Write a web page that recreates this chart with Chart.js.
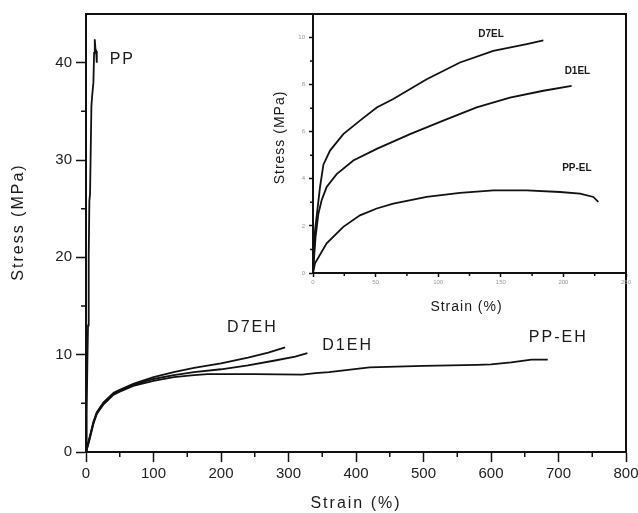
<!DOCTYPE html>
<html>
<head>
<meta charset="utf-8">
<script src="https://cdn.jsdelivr.net/npm/chart.js@4"></script>
<style>
  body { margin: 0; background: #fff; }
  #wrap { position: relative; width: 638px; height: 513px; }
  #main { position: absolute; left: 0; top: 0; }
  #inset { position: absolute; left: 268px; top: 0; }
</style>
</head>
<body>
<div id="wrap">
  <canvas id="main" width="638" height="513"></canvas>
  <canvas id="inset" width="370" height="320"></canvas>
</div>
<script>
// stress-strain curves, main plot
const ppStrain = [0, 1, 2, 3, 4, 5, 6, 8, 9, 11, 12, 13, 14, 15, 16];
const ppStress = [0, 4, 9, 13, 20, 25.8, 26.5, 35.5, 36.5, 38, 41, 42.4, 41.4, 41.2, 40];

const d7ehStrain = [0, 3, 6, 11, 16, 26, 41, 50, 70, 100, 130, 160, 200, 240, 270, 295];
const d7ehStress = [0, 0.9, 1.7, 3.1, 4.1, 5.1, 6.1, 6.4, 7.0, 7.7, 8.2, 8.65, 9.1, 9.7, 10.2, 10.75];

const d1ehStrain = [0, 3, 6, 11, 16, 26, 41, 50, 70, 100, 130, 160, 200, 240, 280, 310, 328];
const d1ehStress = [0, 0.8, 1.6, 3.0, 4.0, 5.0, 6.0, 6.3, 6.9, 7.5, 7.9, 8.2, 8.5, 8.9, 9.4, 9.8, 10.15];

const ppehStrain = [0, 3, 6, 11, 16, 26, 41, 50, 70, 100, 130, 160, 180, 250, 320, 340, 360, 420, 500, 580, 600, 630, 660, 684];
const ppehStress = [0, 0.7, 1.5, 2.9, 3.9, 4.9, 5.9, 6.2, 6.8, 7.3, 7.7, 7.9, 8.0, 8.0, 7.95, 8.1, 8.2, 8.7, 8.85, 8.95, 9.0, 9.2, 9.5, 9.5];

// inset curves
const d7elStrain = [0, 1.6, 5.6, 8.3, 13.6, 24.2, 37.5, 50.9, 64.1, 90.8, 117.4, 144, 170.7, 184];
const d7elStress = [0, 1.8, 3.65, 4.6, 5.2, 5.9, 6.47, 7.03, 7.39, 8.23, 8.94, 9.43, 9.72, 9.88];

const d1elStrain = [0, 2, 4.3, 6.9, 10.9, 18.9, 32.2, 50.9, 77.5, 104, 130.7, 157.3, 184, 206.6];
const d1elStress = [0, 1.5, 2.52, 3.09, 3.65, 4.2, 4.78, 5.27, 5.9, 6.47, 7.03, 7.45, 7.74, 7.95];

const ppelStrain = [0, 1.6, 10.9, 24.2, 37.5, 50.9, 64.1, 90.8, 117.4, 144.2, 170.7, 197.3, 213.3, 223.9, 227.9];
const ppelStress = [0, 0.41, 1.26, 1.96, 2.45, 2.74, 2.95, 3.23, 3.40, 3.51, 3.51, 3.44, 3.37, 3.23, 3.02];

// curve names, anchored in data units
const mainNames = [
  { text: 'PP', x: 35, y: 40.3 },
  { text: 'D7EH', x: 209, y: 12.8 },
  { text: 'D1EH', x: 350, y: 10.9 },
  { text: 'PP-EH', x: 656, y: 11.75 }
];
const insetNames = [
  { text: 'D7EL', x: 132, y: 10.15 },
  { text: 'D1EL', x: 201, y: 8.58 },
  { text: 'PP-EL', x: 199, y: 4.44 }
];

const FONT = "'Liberation Sans', Arial, sans-serif";
const INK = '#111';

function pts(xs, ys) {
    return xs.map((v, i) => ({ x: v, y: ys[i] }));
}

function curve(xs, ys, w) {
    return {
        data: pts(xs, ys),
        borderColor: INK,
        borderWidth: w,
        pointRadius: 0,
        tension: 0
    };
}

// minor ticks, frame, curve names and axis titles (titles need letter spacing)
const decor = {
    id: 'decor',
    afterDraw(chart, args, o) {
        const { ctx, chartArea: a, scales: { x, y } } = chart;
        ctx.save();
        ctx.strokeStyle = INK;
        ctx.lineWidth = 1.5;
        ctx.beginPath();
        for (let v = o.xMinor; v < x.max; v += o.xMinor * 2) {
            const px = x.getPixelForValue(v);
            ctx.moveTo(px, a.bottom);
            ctx.lineTo(px, a.bottom + o.minorLen);
        }
        for (let v = o.yMinor; v < y.max; v += o.yMinor * 2) {
            const py = y.getPixelForValue(v);
            ctx.moveTo(a.left, py);
            ctx.lineTo(a.left - o.minorLen, py);
        }
        ctx.stroke();

        if (o.frame) {
            ctx.lineWidth = 2;
            ctx.strokeRect(a.left, a.top, a.right - a.left, a.bottom - a.top);
        }

        ctx.fillStyle = '#1a1a1a';
        ctx.textBaseline = 'middle';
        ctx.textAlign = 'left';
        ctx.font = o.nameFont;
        ctx.letterSpacing = o.nameSpacing;
        o.names.forEach(n => {
            ctx.fillText(n.text, x.getPixelForValue(n.x), y.getPixelForValue(n.y));
        });

        ctx.font = o.titleFont;
        ctx.letterSpacing = o.titleSpacing;
        ctx.textAlign = 'center';
        ctx.fillText(o.xTitle, (a.left + a.right) / 2 + o.xTitleShift, a.bottom + o.xTitleOffset);
        ctx.translate(a.left - o.yTitleOffset, (a.top + a.bottom) / 2 + o.yTitleShift);
        ctx.rotate(-Math.PI / 2);
        ctx.fillText(o.yTitle, 0, 0);
        ctx.restore();
    }
};

new Chart(document.getElementById('main'), {
    type: 'line',
    data: {
        datasets: [
            curve(ppStrain, ppStress, 1.8),
            curve(d7ehStrain, d7ehStress, 1.8),
            curve(d1ehStrain, d1ehStress, 1.8),
            curve(ppehStrain, ppehStress, 1.8)
        ]
    },
    options: {
        responsive: false,
        animation: false,
        devicePixelRatio: 1,
        layout: { padding: { top: 14, right: 12, left: 0, bottom: 0 } },
        plugins: {
            legend: { display: false },
            tooltip: { enabled: false },
            decor: {
                xMinor: 50, yMinor: 5, minorLen: 5, frame: true,
                names: mainNames,
                nameFont: `16px ${FONT}`, nameSpacing: '2px',
                titleFont: `16px ${FONT}`, titleSpacing: '2px',
                xTitle: 'Strain (%)', xTitleOffset: 52, xTitleShift: 0,
                yTitle: 'Stress (MPa)', yTitleOffset: 67, yTitleShift: -11
            }
        },
        scales: {
            x: {
                type: 'linear', min: 0, max: 800,
                afterFit: s => { s.height = 61; s.paddingLeft = 0; s.paddingRight = 0; },
                ticks: { stepSize: 100, autoSkip: false, maxRotation: 0, padding: 3,
                    color: '#222', font: { family: FONT, size: 15 } },
                grid: { drawOnChartArea: false, tickLength: 10, tickWidth: 1.5, tickColor: INK },
                border: { color: INK, width: 2 }
            },
            y: {
                type: 'linear', min: 0, max: 45,
                afterFit: s => { s.width = 86; },
                afterBuildTicks: s => { s.ticks = s.ticks.filter(t => t.value % 10 === 0); },
                ticks: { stepSize: 10, padding: 4, color: '#222', font: { family: FONT, size: 15 } },
                grid: { drawOnChartArea: false, tickLength: 10, tickWidth: 1.5, tickColor: INK },
                border: { color: INK, width: 2 }
            }
        }
    },
    plugins: [decor]
});

new Chart(document.getElementById('inset'), {
    type: 'line',
    data: {
        datasets: [
            curve(d7elStrain, d7elStress, 1.8),
            curve(d1elStrain, d1elStress, 1.8),
            curve(ppelStrain, ppelStress, 1.8)
        ]
    },
    options: {
        responsive: false,
        animation: false,
        devicePixelRatio: 1,
        layout: { padding: { top: 14, right: 12, left: 0, bottom: 0 } },
        plugins: {
            legend: { display: false },
            tooltip: { enabled: false },
            decor: {
                xMinor: 25, yMinor: 1, minorLen: 3, frame: false,
                names: insetNames,
                nameFont: `bold 10px ${FONT}`, nameSpacing: '0px',
                titleFont: `14px ${FONT}`, titleSpacing: '1px',
                xTitle: 'Strain (%)', xTitleOffset: 34, xTitleShift: -3,
                yTitle: 'Stress (MPa)', yTitleOffset: 33, yTitleShift: -6
            }
        },
        scales: {
            x: {
                type: 'linear', min: 0, max: 250,
                afterFit: s => { s.height = 47; s.paddingLeft = 0; s.paddingRight = 0; },
                ticks: { stepSize: 50, autoSkip: false, maxRotation: 0, padding: 2,
                    color: '#999', font: { family: FONT, size: 6 } },
                grid: { drawOnChartArea: false, tickLength: 4, tickWidth: 1.5, tickColor: INK },
                border: { color: INK, width: 2 }
            },
            y: {
                type: 'linear', min: 0, max: 11,
                afterFit: s => { s.width = 45; },
                afterBuildTicks: s => { s.ticks = s.ticks.filter(t => t.value % 2 === 0); },
                ticks: { stepSize: 2, padding: 4, color: '#999', font: { family: FONT, size: 6 } },
                grid: { drawOnChartArea: false, tickLength: 4, tickWidth: 1.5, tickColor: INK },
                border: { color: INK, width: 2 }
            }
        }
    },
    plugins: [decor]
});
</script>
</body>
</html>
